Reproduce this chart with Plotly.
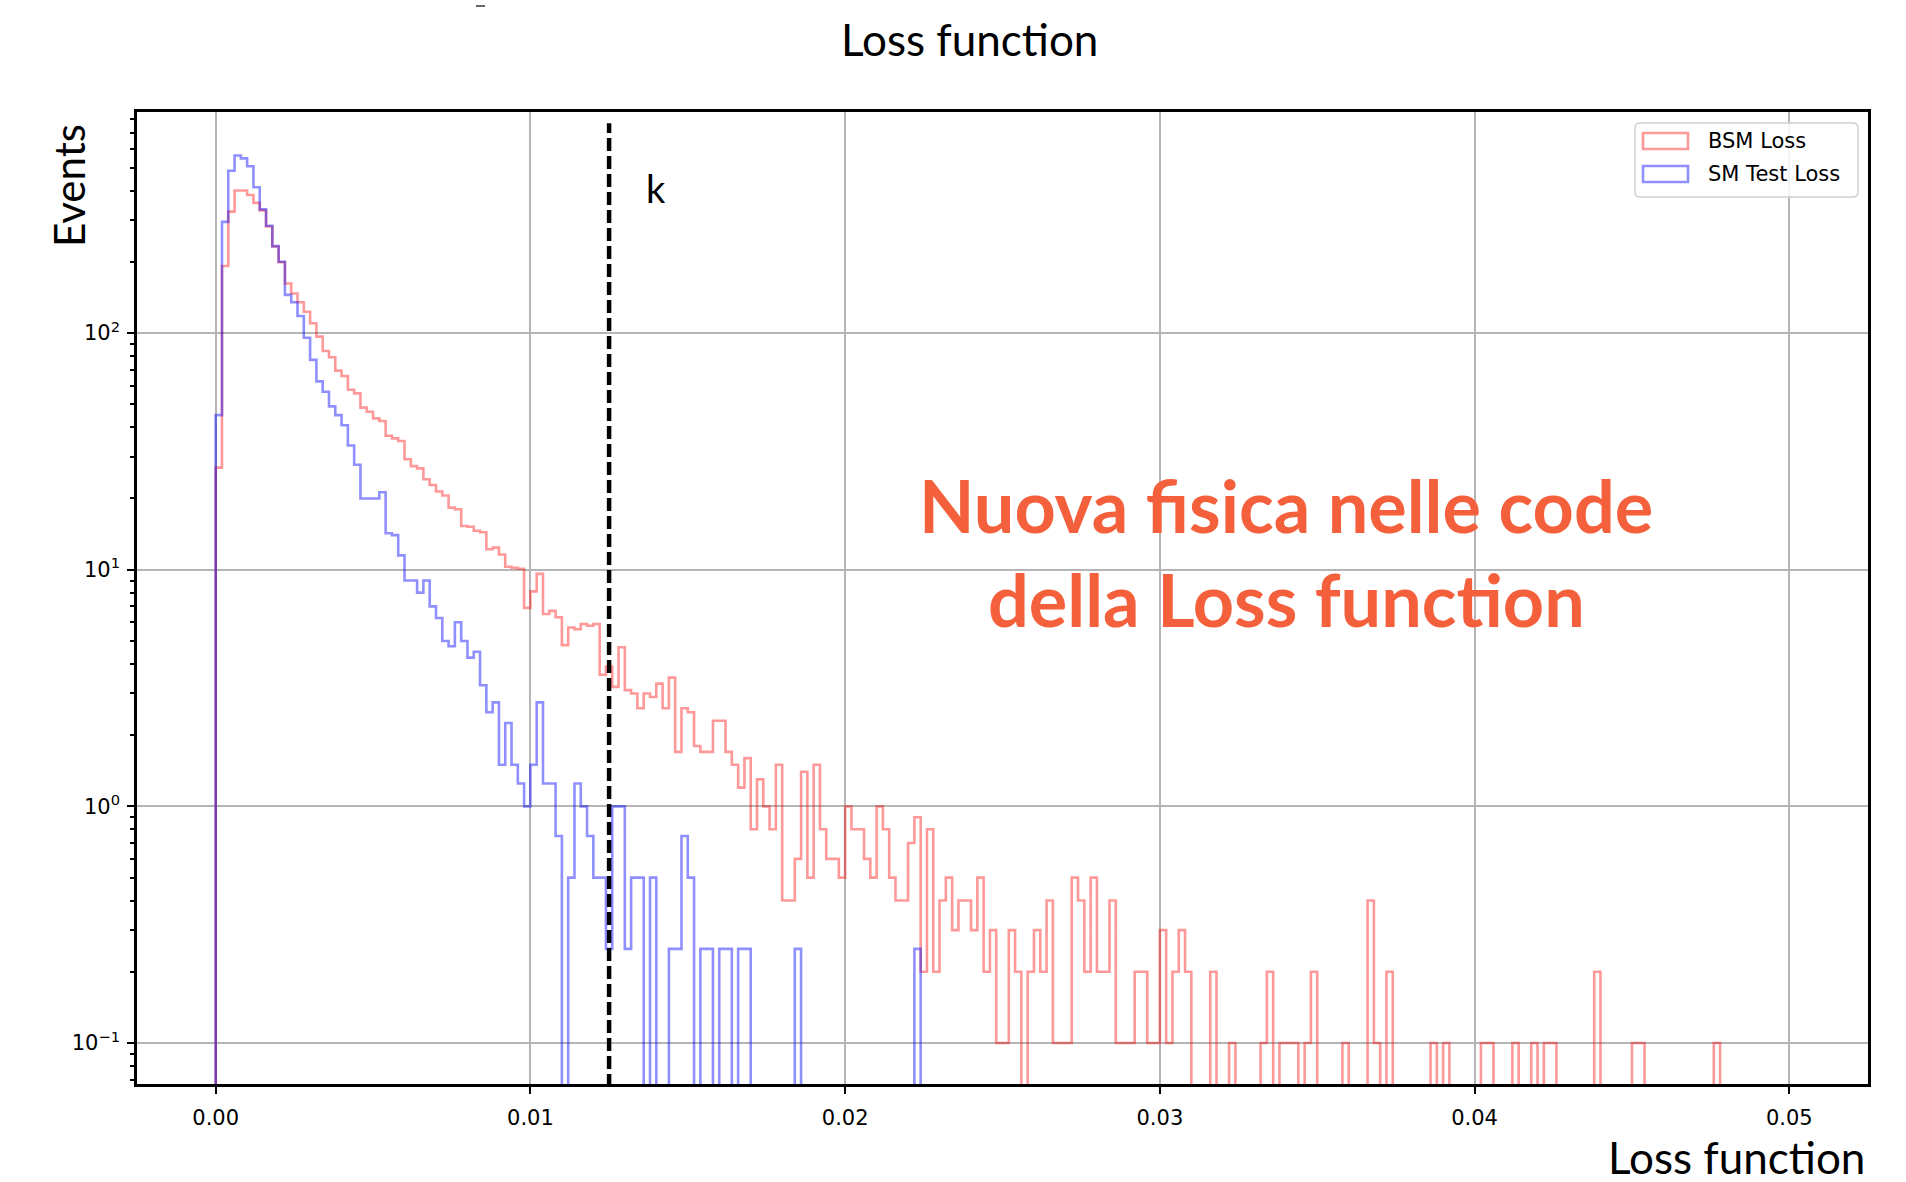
import numpy as np
import plotly.graph_objects as go

# ---------------------------------------------------------------------------
# Histogram data: 250 bins of width 0.0002 on the loss range [0, 0.05]
# ---------------------------------------------------------------------------
bin_edges = np.linspace(0.0, 0.05, 251)

# BSM sample, weighted events per bin
bsm_loss = [
    27, 192, 326, 400, 400, 383, 355, 330, 282, 232,
    199, 162, 147, 135, 123, 110, 96.6, 84, 79, 69.4,
    65.8, 57.6, 55.6, 48.4, 46.5, 43.6, 42.5, 36.8, 35.9, 35.0,
    29.3, 27.4, 26.8, 24.1, 22.8, 21.4, 20.6, 18.3, 18.0, 15.3,
    15.2, 14.6, 14.4, 12.2, 12.4, 11.6, 10.3, 10.2, 10.1, 6.9,
    8.1, 9.6, 6.5, 6.7, 6.3, 4.8, 5.7, 5.6, 5.9, 5.8,
    5.9, 3.6, 3.9, 3.2, 4.7, 3.1, 3.0, 2.6, 3.0, 2.9,
    3.3, 2.6, 3.5, 1.7, 2.6, 2.5, 1.8, 1.7, 1.7, 2.3,
    2.3, 1.7, 1.5, 1.2, 1.6, 0.8, 1.3, 1.0, 0.8, 1.5,
    0.4, 0.4, 0.6, 1.4, 0.5, 1.5, 0.8, 0.6, 0.6, 0.5,
    1.0, 0.8, 0.8, 0.6, 0.5, 1.0, 0.8, 0.5, 0.4, 0.4,
    0.7, 0.9, 0.2, 0.8, 0.2, 0.4, 0.5, 0.3, 0.4, 0.4,
    0.3, 0.5, 0.2, 0.3, 0.1, 0.1, 0.3, 0.2, 0, 0.2,
    0.3, 0.2, 0.4, 0.1, 0.1, 0.1, 0.5, 0.4, 0.2, 0.5,
    0.2, 0.2, 0.4, 0.1, 0.1, 0.1, 0.2, 0.2, 0.1, 0.1,
    0.3, 0.1, 0.2, 0.3, 0.2, 0, 0, 0, 0.2, 0,
    0, 0.1, 0, 0, 0, 0, 0.1, 0.2, 0, 0.1,
    0.1, 0.1, 0, 0.1, 0.2, 0, 0, 0, 0, 0.1,
    0, 0, 0, 0.4, 0.1, 0, 0.2, 0, 0, 0,
    0, 0, 0, 0.1, 0, 0.1, 0, 0, 0, 0,
    0, 0.1, 0.1, 0, 0, 0, 0.1, 0, 0, 0.1,
    0, 0.1, 0.1, 0, 0, 0, 0, 0, 0, 0.2,
    0, 0, 0, 0, 0, 0.1, 0.1, 0, 0, 0,
    0, 0, 0, 0, 0, 0, 0, 0, 0.1, 0,
    0, 0, 0, 0, 0, 0, 0, 0, 0, 0,
]

# SM test sample, weighted events per bin
sm_test_loss = [
    45, 295, 485, 563, 547, 507, 413, 333, 284, 233,
    200, 145, 135, 118, 95.5, 77, 62.5, 56.5, 49, 45,
    40.75, 33.5, 27.75, 20, 20, 20, 21.25, 14.25, 14, 11.5,
    9, 9, 8, 9, 7, 6.25, 5, 4.75, 6, 5,
    4.25, 4.5, 3.25, 2.5, 2.75, 1.5, 2.25, 1.5, 1.25, 1.0,
    1.5, 2.75, 1.25, 1.25, 0.75, 0, 0.5, 1.25, 1.0, 0.75,
    0.5, 0.5, 0.25, 1.0, 1.0, 0.25, 0.5, 0.5, 0, 0.5,
    0, 0, 0.25, 0.25, 0.75, 0.5, 0, 0.25, 0.25, 0,
    0.25, 0.25, 0, 0.25, 0.25, 0, 0, 0, 0, 0,
    0, 0, 0.25, 0, 0, 0, 0, 0, 0, 0,
    0, 0, 0, 0, 0, 0, 0, 0, 0, 0,
    0, 0.25, 0, 0, 0, 0, 0, 0, 0, 0,
] + [0] * 130

series_names = ["BSM Loss", "SM Test Loss"]

# Threshold on the loss
threshold_k = 0.0125
threshold_top = 770

x_tick_vals = [0.0, 0.01, 0.02, 0.03, 0.04, 0.05]
x_tick_text = ["0.00", "0.01", "0.02", "0.03", "0.04", "0.05"]
y_tick_vals = [0.1, 1, 10, 100]
y_tick_text = ["10<sup>\u22121</sup>", "10<sup>0</sup>", "10<sup>1</sup>", "10<sup>2</sup>"]
y_minor_vals = [m * 10.0 ** e for e in range(-2, 3) for m in range(2, 10)]

# ---------------------------------------------------------------------------
# Styling
# ---------------------------------------------------------------------------
RED = "rgba(255,0,0,0.40)"
BLUE = "rgba(0,0,255,0.44)"
ANNOT = "#F4603C"
FLOOR = 1e-4  # empty bins drop below the visible range

W, H = 1906, 1182
L, R, T, B = 137, 1868, 112, 1084  # plot area in pixels


def px(x):
    return (x - L) / (R - L)


def py(y):
    return (B - y) / (B - T)


def step_outline(values):
    vals = [v if v > 0 else FLOOR for v in values]
    xs = [bin_edges[0]] + list(bin_edges[:-1]) + [bin_edges[-1]]
    ys = [FLOOR] + vals + [FLOOR]
    return xs, ys


fig = go.Figure()
for name, vals, color in [(series_names[0], bsm_loss, RED),
                          (series_names[1], sm_test_loss, BLUE)]:
    xs, ys = step_outline(vals)
    fig.add_trace(go.Scatter(
        x=xs, y=ys, mode="lines", name=name,
        line=dict(color=color, width=2.6, shape="hv"),
        hoverinfo="skip", showlegend=False,
    ))

fig.add_trace(go.Scatter(
    x=[threshold_k, threshold_k], y=[FLOOR, threshold_top], mode="lines",
    line=dict(color="black", width=4.5, dash="13px,5px"),
    hoverinfo="skip", showlegend=False,
))

axis_common = dict(
    showgrid=True, gridcolor="#b5b5b5", gridwidth=1.8, zeroline=False,
    showline=True, linecolor="black", linewidth=2.5, mirror=True,
    ticks="outside", ticklen=7, tickwidth=2.2, tickcolor="black",
    tickfont=dict(family="DejaVu Sans", size=21, color="black"),
)

fig.update_layout(
    width=W, height=H,
    margin=dict(l=L, r=W - R, t=T, b=H - B),
    paper_bgcolor="white", plot_bgcolor="white",
    showlegend=False,
    xaxis=dict(range=[-0.0025, 0.0525], tickmode="array",
               tickvals=x_tick_vals, ticktext=x_tick_text,
               ticklabelstandoff=6, **axis_common),
    yaxis=dict(type="log", range=[-1.173, 2.934], tickmode="array",
               tickvals=y_tick_vals, ticktext=y_tick_text,
               ticklabelstandoff=3,
               minor=dict(tickmode="array", tickvals=y_minor_vals,
                          ticks="outside", ticklen=4, tickwidth=1.5,
                          tickcolor="black", showgrid=False),
               **axis_common),
)

# Legend drawn as outlined patches with labels
lx0, lx1, ly0, ly1 = 1635, 1858, 123, 197
rx, ry = 5 / (R - L), 5 / (B - T)
X0, X1, Y0, Y1 = px(lx0), px(lx1), py(ly0), py(ly1)
legend_path = (
    f"M {X0 + rx},{Y0} L {X1 - rx},{Y0} Q {X1},{Y0} {X1},{Y0 - ry} "
    f"L {X1},{Y1 + ry} Q {X1},{Y1} {X1 - rx},{Y1} "
    f"L {X0 + rx},{Y1} Q {X0},{Y1} {X0},{Y1 + ry} "
    f"L {X0},{Y0 - ry} Q {X0},{Y0} {X0 + rx},{Y0} Z"
)
shapes = [
    dict(type="path", xref="paper", yref="paper", path=legend_path,
         line=dict(color="#d0d0d0", width=1.5),
         fillcolor="rgba(255,255,255,0.85)", layer="above"),
    # short stroke above the title
    dict(type="line", xref="paper", yref="paper",
         x0=px(476), x1=px(485), y0=py(6), y1=py(6),
         line=dict(color="#333333", width=1.5)),
]
annotations = []
for i, (name, color) in enumerate(zip(series_names, [RED, BLUE])):
    cy = 141 + 33 * i
    shapes.append(dict(type="rect", xref="paper", yref="paper",
                       x0=px(1643), x1=px(1688), y0=py(cy - 8), y1=py(cy + 8),
                       line=dict(color=color, width=2.6),
                       fillcolor="rgba(0,0,0,0)", layer="above"))
    annotations.append(dict(x=px(1706), y=py(cy), xref="paper", yref="paper",
                            text=name, showarrow=False, xanchor="left",
                            yanchor="middle",
                            font=dict(family="DejaVu Sans", size=21,
                                      color="black")))

annotations += [
    dict(x=px(969), y=py(39), text="Loss function",
         font=dict(family="Lato", size=44, color="black")),
    dict(x=px(69), y=py(186), text="Events", textangle=-90,
         font=dict(family="Lato", size=42, color="black")),
    dict(x=px(1867), y=py(1157), text="Loss function", xanchor="right",
         font=dict(family="Lato", size=44, color="black")),
    dict(x=px(656), y=py(188), text="k",
         font=dict(family="Lato", size=38, color="black")),
    dict(x=px(1286), y=py(505), text="<b>Nuova fisica nelle code</b>",
         font=dict(family="Lato", size=72, color=ANNOT)),
    dict(x=px(1286), y=py(599), text="<b>della Loss function</b>",
         font=dict(family="Lato", size=72, color=ANNOT)),
]
for a in annotations:
    a.setdefault("xref", "paper")
    a.setdefault("yref", "paper")
    a.setdefault("showarrow", False)
    a.setdefault("xanchor", "center")
    a.setdefault("yanchor", "middle")

fig.update_layout(shapes=shapes, annotations=annotations)

fig.write_html("out.html")
